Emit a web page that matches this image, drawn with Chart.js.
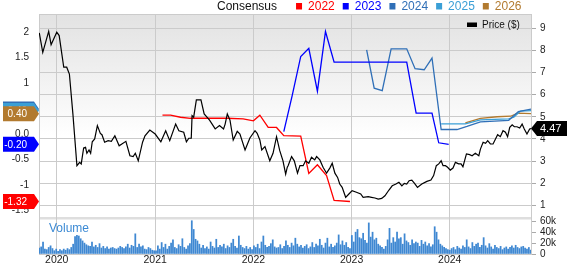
<!DOCTYPE html>
<html>
<head>
<meta charset="utf-8">
<script src="https://cdn.jsdelivr.net/npm/chart.js@4.4.1/dist/chart.umd.min.js"></script>
<style>
  html, body { margin: 0; padding: 0; background: #fff; }
  canvas { display: block; }
</style>
</head>
<body>
<canvas id="chart" width="567" height="264"></canvas>
<script>
/* Price & Consensus – precio semanal, consenso EPS por año fiscal y volumen */

// ── Precio ($) ─────────────────────────────────────────────
const priceDates = [
  "2019-10-28","2019-11-10","2019-12-02","2019-12-11","2020-01-01","2020-01-10","2020-01-27","2020-02-07",
  "2020-02-17","2020-03-01","2020-03-16","2020-03-26","2020-04-01","2020-04-10","2020-04-17","2020-04-22",
  "2020-04-30","2020-05-06","2020-05-12","2020-05-21","2020-05-31","2020-06-11","2020-06-17","2020-06-27",
  "2020-07-10","2020-07-22","2020-08-04","2020-08-20","2020-09-14","2020-09-29","2020-10-11","2020-10-19",
  "2020-10-30","2020-11-15","2020-11-24","2020-12-12","2021-01-01","2021-01-22","2021-02-09","2021-02-24",
  "2021-03-18","2021-03-30","2021-04-17","2021-04-27","2021-05-06","2021-05-15","2021-05-18","2021-05-24",
  "2021-06-03","2021-06-20","2021-07-02","2021-07-22","2021-08-12","2021-08-28","2021-09-12","2021-09-18",
  "2021-09-26","2021-10-06","2021-10-18","2021-11-02","2021-11-12","2021-12-01","2021-12-19","2022-01-07",
  "2022-01-15","2022-01-25","2022-02-01","2022-02-13","2022-03-03","2022-03-15","2022-03-28","2022-04-09",
  "2022-04-21","2022-05-01","2022-05-07","2022-05-10","2022-05-23","2022-06-02","2022-06-14","2022-06-23",
  "2022-07-05","2022-07-14","2022-07-26","2022-08-05","2022-08-17","2022-08-24","2022-09-05","2022-09-17",
  "2022-09-30","2022-10-12","2022-10-21","2022-10-31","2022-11-10","2022-11-18","2022-11-27","2022-12-10",
  "2022-12-22","2023-01-03","2023-01-19","2023-02-04","2023-02-13","2023-03-04","2023-03-16","2023-03-29",
  "2023-04-10","2023-04-23","2023-05-05","2023-05-20","2023-06-01","2023-06-15","2023-06-26","2023-07-07",
  "2023-07-16","2023-07-25","2023-08-03","2023-08-13","2023-08-23","2023-09-03","2023-09-19","2023-10-08",
  "2023-10-23","2023-11-02","2023-11-12","2023-11-21","2023-11-30","2023-12-07","2023-12-16","2023-12-24",
  "2024-01-03","2024-01-13","2024-01-22","2024-02-03","2024-02-12","2024-02-19","2024-03-03","2024-03-15",
  "2024-03-24","2024-04-05","2024-04-18","2024-04-24","2024-05-04","2024-05-13","2024-05-21","2024-05-31",
  "2024-06-10","2024-06-19","2024-06-27","2024-07-07","2024-07-17","2024-07-26","2024-08-03","2024-08-11",
  "2024-08-20","2024-08-28","2024-09-07","2024-09-17","2024-09-26","2024-10-04","2024-10-14","2024-10-24",
  "2024-10-29"
];
const priceValues = [
  8.79, 7.91, 8.86, 8.26, 8.82, 8.67, 7.24, 7.24,
  6.93, 5.13, 2.79, 2.94, 2.87, 3.59, 3.62, 3.35,
  3.50, 3.35, 3.87, 4.00, 4.60, 4.25, 4.19, 3.85,
  3.92, 3.89, 4.14, 3.69, 3.89, 3.24, 3.20, 3.35,
  3.01, 3.85, 4.14, 4.40, 4.22, 3.87, 4.37, 3.92,
  4.67, 4.37, 4.30, 3.87, 4.03, 4.03, 5.05, 4.98,
  5.76, 5.76, 5.13, 4.85, 4.45, 4.60, 4.45, 4.67,
  5.13, 4.85, 3.95, 4.34, 4.22, 3.50, 4.04, 4.37,
  4.25, 3.95, 3.50, 3.65, 3.01, 3.35, 4.10, 3.47,
  3.01, 2.41, 2.72, 2.79, 3.20, 3.01, 2.45, 2.79,
  2.79, 3.01, 2.90, 3.17, 3.05, 3.20, 3.05, 2.72,
  2.45, 2.68, 2.90, 2.45, 2.26, 1.96, 1.81, 1.36,
  1.51, 1.66, 1.59, 1.51, 1.36, 1.39, 1.36, 1.33,
  1.28, 1.31, 1.43, 1.69, 1.88, 1.96, 2.04, 1.88,
  1.99, 1.96, 2.11, 2.14, 1.99, 1.81, 1.96, 2.08,
  2.14, 2.34, 2.79, 2.87, 3.01, 2.79, 2.79, 2.72,
  2.59, 2.68, 2.94, 2.87, 2.87, 2.74, 3.32, 3.29,
  3.24, 3.35, 3.24, 3.54, 3.85, 3.80, 3.92, 3.77,
  3.77, 4.00, 4.19, 4.10, 4.37, 4.30, 4.10, 4.52,
  4.64, 4.55, 4.55, 4.49, 4.67, 4.45, 4.22, 4.45,
  4.47
];

// ── Consenso EPS por año fiscal ───────────────────────────
const cons2022Dates = ["2021-01-28","2021-02-27","2021-04-05","2021-05-12","2021-09-24","2021-11-24","2022-01-01","2022-01-25",
  "2022-02-25","2022-03-28","2022-04-24","2022-06-26","2022-07-26","2022-08-27","2022-09-30","2022-10-28","2022-12-26"];
const cons2022Values = [0.37, 0.37, 0.33, 0.31, 0.31, 0.30, 0.26, 0.37, 0.13, 0.13, -0.03, -0.04, -0.77, -0.60, -0.81, -1.30, -1.32];

const cons2023Dates = ["2022-04-24","2022-05-25","2022-06-26","2022-07-26","2022-08-27","2022-09-26","2022-10-28","2023-07-25",
  "2023-08-29","2023-10-27","2023-11-21","2023-12-28"];
const cons2023Values = [0.05, 0.75, 1.52, 1.68, 0.84, 2.01, 1.41, 1.41, 0.41, 0.41, -0.17, -0.20];

const cons2024Dates = ["2023-02-26","2023-03-26","2023-04-25","2023-05-28","2023-07-25","2023-08-25","2023-09-28","2023-10-27",
  "2023-11-30","2024-01-28","2024-03-05","2024-04-24","2024-08-07","2024-09-12","2024-10-29"];
const cons2024Values = [1.65, 0.90, 0.85, 1.67, 1.67, 1.28, 1.26, 1.49, 0.09, 0.09, 0.15, 0.24, 0.27, 0.44, 0.49];

const cons2025Dates = ["2023-11-30","2024-02-28","2024-04-24","2024-08-07","2024-08-26","2024-09-20","2024-10-29"];
const cons2025Values = [0.20, 0.20, 0.28, 0.30, 0.33, 0.45, 0.46];

const cons2026Dates = ["2024-02-28","2024-04-24","2024-06-25","2024-08-14","2024-09-10","2024-10-29"];
const cons2026Values = [0.22, 0.31, 0.34, 0.35, 0.41, 0.40];

// ── Volumen semanal (miles), desde la primera semana ──────
const volumeStart = "2019-10-28";
const volumeK = [
  11, 13, 22, 9, 8, 12, 15, 10, 6, 9,
  5, 8, 6, 9, 7, 10, 8, 12, 18, 32, 34, 33, 28, 24, 20, 17, 15, 14, 22, 13, 16, 12, 19, 11, 14, 10,
  13, 9, 11, 12, 10, 9, 11, 14, 12, 10, 13, 18, 11, 16, 14, 37, 12, 18, 13, 15, 9, 8, 12, 10, 7, 6,
  6, 15, 9, 21, 12, 18, 9, 14, 20, 26, 12, 10, 17, 14, 28, 12, 9, 15, 19, 61, 45, 27, 24, 18, 11, 16,
  10, 13, 9, 22, 14, 11, 27, 12, 16, 13, 18, 10, 15, 12, 20, 27, 14, 11, 33, 16, 12, 10, 14, 9, 12, 8,
  15, 12, 18, 10, 22, 33, 16, 12, 14, 19, 26, 13, 11, 12, 17, 10, 14, 24, 16, 12, 20, 15, 29, 18, 13, 16,
  11, 14, 17, 10, 13, 21, 12, 18, 15, 27, 16, 11, 20, 29, 13, 18, 12, 15, 20, 35, 17, 24, 16, 21, 12, 10,
  34, 22, 40, 45, 30, 28, 38, 25, 20, 57, 31, 40, 26, 29, 18, 15, 12, 9, 14, 26, 47, 20, 30, 22, 40, 28,
  30, 18, 37, 24, 21, 16, 26, 19, 22, 20, 14, 25, 18, 22, 15, 19, 13, 17, 50, 40, 26, 18, 15, 12, 10, 8,
  7, 10, 12, 8, 14, 11, 9, 15, 12, 26, 13, 10, 21, 14, 18, 20, 12, 16, 30, 15, 11, 19, 13, 9,
  16, 12, 10, 14, 8, 11, 13, 9, 12, 15, 11, 16, 12, 10, 13, 14, 11, 9, 12, 7
];

// ── Ejes ──────────────────────────────────────────────────
const xRange = ["2019-10-27", "2024-10-29"];
const yearTicks = ["2020-01-01", "2021-01-01", "2022-01-01", "2023-01-01", "2024-01-01"];
const priceTicks = [1, 2, 3, 4, 5, 6, 7, 8, 9];
const epsTicks = [2, 1.5, 1, 0.5, 0, -0.5, -1, -1.5];
const volumeTicks = [0, 20, 40, 60];

/* --- Estilo ---------- */
const FONT = '"Liberation Sans", Arial, sans-serif';
const GRID = "#cbcbcb";
const INK = "#222";
const WEEK_MS = 7 * 24 * 60 * 60 * 1000;

const series = [
  { label: "2022", color: "#ff0000", dates: cons2022Dates, values: cons2022Values },
  { label: "2023", color: "#0000ff", dates: cons2023Dates, values: cons2023Values },
  { label: "2024", color: "#2f6fb7", dates: cons2024Dates, values: cons2024Values },
  { label: "2025", color: "#3a9fd6", dates: cons2025Dates, values: cons2025Values },
  { label: "2026", color: "#b27a2f", dates: cons2026Dates, values: cons2026Values },
];

const ms = (d) => Date.parse(d);
const pts = (dates, vals) => dates.map((d, i) => ({ x: ms(d), y: vals[i] }));
const volumePts = volumeK.map((v, i) => ({ x: ms(volumeStart) + i * WEEK_MS, y: v }));

Chart.defaults.font.family = FONT;

/* ── Plugin: fondos, leyendas y etiquetas ── */
function leftTag(ctx, tipX, y, color, text) {
  ctx.beginPath();
  ctx.moveTo(3, y - 7.5);
  ctx.lineTo(tipX - 5, y - 7.5);
  ctx.lineTo(tipX, y);
  ctx.lineTo(tipX - 5, y + 7.5);
  ctx.lineTo(3, y + 7.5);
  ctx.closePath();
  ctx.fillStyle = color;
  ctx.fill();
  ctx.fillStyle = "#fff";
  ctx.font = "10px " + FONT;
  ctx.textAlign = "right";
  ctx.textBaseline = "middle";
  ctx.fillText(text, 27, y + 0.5);
}

function rightTag(ctx, tipX, y, color, text) {
  ctx.beginPath();
  ctx.moveTo(tipX, y);
  ctx.lineTo(tipX + 6, y - 7.5);
  ctx.lineTo(567, y - 7.5);
  ctx.lineTo(567, y + 7.5);
  ctx.lineTo(tipX + 6, y + 7.5);
  ctx.closePath();
  ctx.fillStyle = color;
  ctx.fill();
  ctx.fillStyle = "#fff";
  ctx.font = "11px " + FONT;
  ctx.textAlign = "left";
  ctx.textBaseline = "middle";
  ctx.fillText(text, tipX + 9, y + 0.5);
}

const panelsPlugin = {
  id: "panels",
  beforeDraw(chart) {
    const { ctx, chartArea: a, scales } = chart;
    const split = scales.yPrice.bottom;
    ctx.save();
    const g = ctx.createLinearGradient(0, a.top, 0, split);
    g.addColorStop(0, "#e2e2e2");
    g.addColorStop(0.6, "#ffffff");
    ctx.fillStyle = g;
    ctx.fillRect(a.left, a.top, a.right - a.left, split - a.top);
    ctx.fillStyle = "#dedede";
    ctx.fillRect(a.left, split - 1, a.right - a.left, 2.5);
    ctx.restore();
  },
  beforeDatasetsDraw(chart) {
    const { ctx, chartArea: a } = chart;
    ctx.save();
    ctx.fillStyle = "#3c8ad4";
    ctx.font = "12px " + FONT;
    ctx.textAlign = "left";
    ctx.textBaseline = "middle";
    ctx.fillText("Volume", a.left + 10, 229);
    ctx.restore();
  },
  afterDraw(chart) {
    const { ctx, chartArea: a, scales } = chart;
    ctx.save();

    // borde superior
    ctx.strokeStyle = GRID;
    ctx.lineWidth = 1;
    ctx.beginPath();
    ctx.moveTo(a.left, a.top + 0.5);
    ctx.lineTo(a.right, a.top + 0.5);
    ctx.stroke();

    // leyenda superior
    ctx.textBaseline = "alphabetic";
    ctx.textAlign = "left";
    ctx.font = "12px " + FONT;
    let x = 217;
    ctx.fillStyle = "#111";
    ctx.fillText("Consensus", x, 10);
    x += ctx.measureText("Consensus").width + 19;
    series.forEach((s) => {
      ctx.fillStyle = s.color;
      ctx.fillRect(x, 3, 6, 6.5);
      x += 12;
      ctx.fillText(s.label, x, 10);
      x += ctx.measureText(s.label).width + 8;
    });

    // leyenda del precio
    ctx.fillStyle = "#000";
    ctx.fillRect(467, 22.5, 10, 4.5);
    ctx.font = "10px " + FONT;
    ctx.fillStyle = "#111";
    ctx.textBaseline = "middle";
    ctx.fillText("Price ($)", 482, 25.5);

    // etiquetas del último valor
    series.forEach((s) => {
      const v = s.values[s.values.length - 1];
      leftTag(ctx, a.left, scales.yEps.getPixelForValue(v), s.color, v.toFixed(2));
    });
    const lastPrice = priceValues[priceValues.length - 1];
    rightTag(ctx, a.right, scales.yPrice.getPixelForValue(lastPrice), "#000", lastPrice.toFixed(2));

    ctx.restore();
  },
};

const zeroPad = (s) => {
  s.paddingTop = 0;
  s.paddingBottom = 0;
  s.paddingLeft = 0;
  s.paddingRight = 0;
};

new Chart(document.getElementById("chart").getContext("2d"), {
  type: "line",
  data: {
    datasets: [
      {
        label: "Price ($)",
        data: pts(priceDates, priceValues),
        yAxisID: "yPrice",
        borderColor: "#000",
        borderWidth: 1.2,
        pointRadius: 0,
        order: 0,
      },
      ...series.map((s) => ({
        label: s.label,
        data: pts(s.dates, s.values),
        yAxisID: "yEps",
        borderColor: s.color,
        borderWidth: 1.3,
        pointRadius: 0,
        order: 1,
      })),
      {
        type: "bar",
        label: "Volume",
        data: volumePts,
        yAxisID: "yVol",
        backgroundColor: "#3f88d2",
        barThickness: 1.1,
        order: 2,
      },
    ],
  },
  options: {
    responsive: false,
    animation: false,
    events: [],
    layout: { padding: { top: 14, left: 0, right: 0, bottom: 0 } },
    plugins: { legend: { display: false }, tooltip: { enabled: false } },
    scales: {
      x: {
        type: "linear",
        offset: false,
        min: ms(xRange[0]),
        max: ms(xRange[1]),
        afterBuildTicks: (s) => { s.ticks = yearTicks.map((d) => ({ value: ms(d) })); },
        afterFit: (s) => { s.height = 10; zeroPad(s); },
        ticks: {
          callback: (v) => String(new Date(v).getUTCFullYear()),
          color: INK,
          font: { size: 10.5 },
          padding: 0,
          maxRotation: 0,
          autoSkip: false,
        },
        grid: { color: GRID, drawTicks: false, offset: false },
        border: { color: GRID },
      },
      yEps: {
        position: "left",
        min: -2.348,
        max: 2.352,
        afterBuildTicks: (s) => { s.ticks = epsTicks.map((v) => ({ value: v })); },
        afterFit: (s) => { s.width = 39; zeroPad(s); },
        ticks: {
          callback: (v) => (v === 0 ? "0.0" : String(v)),
          color: INK,
          font: { size: 10 },
          padding: 10,
          autoSkip: false,
        },
        grid: { drawOnChartArea: false, drawTicks: false },
        border: { color: GRID },
      },
      yPrice: {
        position: "right",
        stack: "right",
        stackWeight: 204,
        min: 0.425,
        max: 9.645,
        afterBuildTicks: (s) => { s.ticks = priceTicks.map((v) => ({ value: v })); },
        afterFit: (s) => { s.width = 36; zeroPad(s); },
        ticks: { color: INK, font: { size: 10 }, padding: 4, autoSkip: false },
        grid: { color: GRID, tickLength: 5, tickColor: "#aaa" },
        border: { color: GRID },
      },
      yVol: {
        position: "right",
        stack: "right",
        stackWeight: 36,
        min: 0,
        max: 66,
        afterBuildTicks: (s) => { s.ticks = volumeTicks.map((v) => ({ value: v })); },
        afterFit: (s) => { s.width = 36; zeroPad(s); },
        ticks: {
          callback: (v) => (v === 0 ? "0" : v + "k"),
          color: INK,
          font: { size: 10 },
          padding: 4,
          autoSkip: false,
        },
        grid: { drawOnChartArea: false, tickLength: 5, tickColor: "#aaa" },
        border: { color: GRID },
      },
    },
  },
  plugins: [panelsPlugin],
});
</script>
</body>
</html>
